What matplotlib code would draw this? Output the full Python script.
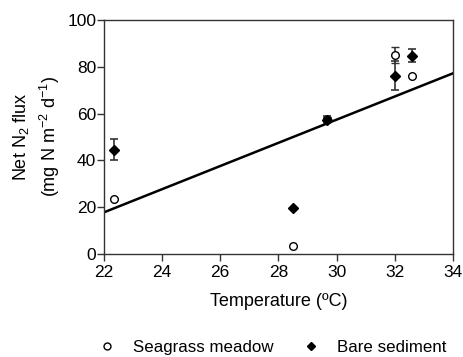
import matplotlib.pyplot as plt

plt.rcParams["font.family"] = ["Liberation Sans", "DejaVu Sans"]
plt.rcParams["mathtext.fontset"] = "custom"
plt.rcParams["mathtext.rm"] = "Liberation Sans"
plt.rcParams["mathtext.it"] = "Liberation Sans"

# Seagrass meadow (open circles)
seagrass_temp = [22.35, 28.5, 29.68, 32.0, 32.58]
seagrass_flux = [23.5, 3.4, 57.5, 85.0, 76.2]
seagrass_err = [0.0, 0.0, 1.2, 3.5, 0.0]

# Bare sediment (filled diamonds)
bare_temp = [22.35, 28.5, 29.68, 32.0, 32.58]
bare_flux = [44.6, 19.5, 57.3, 76.1, 84.8]
bare_err = [4.4, 0.0, 1.5, 6.2, 2.7]

# linear regression fit
fit_slope = 4.95
fit_intercept = 17.8 - 4.95 * 22
fit_range = [22, 34]

fig = plt.figure(figsize=(4.64, 3.57), dpi=100)
ax = fig.add_axes([0.224, 0.2885, 0.752, 0.6555])

fit_y = [fit_intercept + fit_slope * t for t in fit_range]
ax.plot(fit_range, fit_y, color="black", lw=1.8, zorder=2)

ax.errorbar(seagrass_temp, seagrass_flux, yerr=seagrass_err, fmt="o", mfc="white",
            mec="black", mew=1.0, ms=5.5, ecolor="#333333", elinewidth=1.2, capsize=3,
            capthick=1.2, zorder=3)
ax.errorbar(bare_temp, bare_flux, yerr=bare_err, fmt="D", color="black", ms=5,
            ecolor="#333333", elinewidth=1.2, capsize=3, capthick=1.2, zorder=4)

ax.set_xlim(22, 34)
ax.set_ylim(0, 100)
ax.set_xticks(range(22, 35, 2))
ax.set_yticks(range(0, 101, 20))
for s in ax.spines.values():
    s.set_color("#333333")
    s.set_linewidth(1.0)
ax.tick_params(direction="out", length=5, width=1.0, color="#333333",
               labelsize=12.5)
ax.tick_params(axis="x", pad=3)
ax.tick_params(axis="y", pad=0.5)

ax.set_xlabel("Temperature (ºC)", fontsize=13, labelpad=9)
ax.set_ylabel("Net N$_2$ flux\n(mg N m$^{-2}$ d$^{-1}$)", fontsize=13, labelpad=3.5,
              linespacing=1.4)

h1 = plt.Line2D([], [], ls="none", marker="o", mfc="white", mec="black", ms=5)
h2 = plt.Line2D([], [], ls="none", marker="D", color="black", ms=4)
fig.legend([h1, h2], ["Seagrass meadow", "Bare sediment"], loc="lower center",
           bbox_to_anchor=(0.578, -0.038), ncol=2, frameon=False, fontsize=12.2,
           columnspacing=1.2, handletextpad=0.55)

fig.savefig("out.png", dpi=100)
